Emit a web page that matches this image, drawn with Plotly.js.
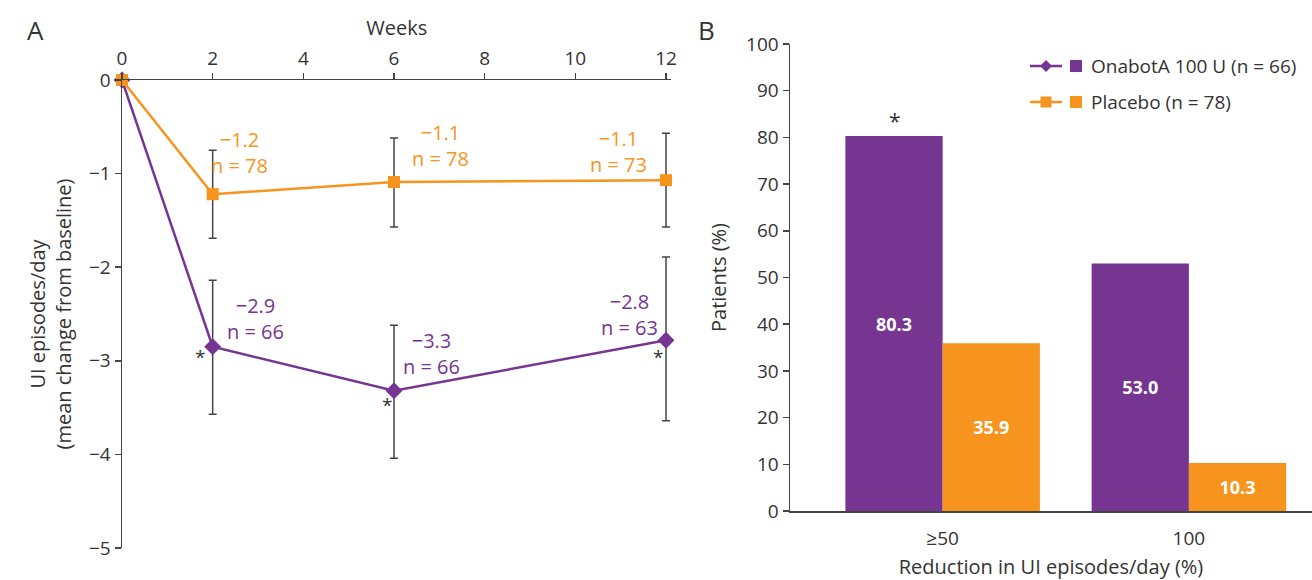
<!DOCTYPE html>
<html>
<head>
<meta charset="utf-8">
<script src="https://cdn.plot.ly/plotly-3.0.1.min.js"></script>
<style>html,body{margin:0;padding:0;background:#fff;}#chart{width:1312px;height:580px;}</style>
</head>
<body>
<div id="chart"></div>
<script>
// ---- Panel A data ----
const weeks = [0, 2, 6, 12];
const weekTicks = [0, 2, 4, 6, 8, 10, 12];
const onaMean = [0, -2.85, -3.32, -2.78];
const onaErrPlus = [null, 0.71, 0.70, 0.89];
const onaErrMinus = [null, 0.72, 0.72, 0.86];
const onaChange = ["", "\u22122.9", "\u22123.3", "\u22122.8"];
const onaN = [null, 66, 66, 63];
const placeboMean = [0, -1.22, -1.09, -1.07];
const placeboErrPlus = [null, 0.47, 0.47, 0.50];
const placeboErrMinus = [null, 0.47, 0.48, 0.50];
const placeboChange = ["", "\u22121.2", "\u22121.1", "\u22121.1"];
const placeboN = [null, 78, 78, 73];
const onaSignificant = [false, true, true, true];
const yTicksA = [0, -1, -2, -3, -4, -5];

// ---- Panel B data ----
const reductionCats = ["\u226550", "100"];
const onaPct = [80.3, 53.0];
const placeboPct = [35.9, 10.3];
const onaPctSignificant = [true, true];

const seriesNames = ["OnabotA 100 U (n = 66)", "Placebo (n = 78)"];

const PURPLE = "#763591";
const ORANGE = "#F7941D";
const AX = "#444444";
const TXT = "#333333";
const FONT = "Open Sans, Noto Sans, sans-serif";

const W = 1312, H = 580;
const px = v => v / W;
const py = v => 1 - v / H;

const traces = [
  {
    x: weeks, y: onaMean, type: "scatter", mode: "lines+markers",
    xaxis: "x", yaxis: "y", name: seriesNames[0], showlegend: false,
    line: {color: PURPLE, width: 2.5},
    marker: {symbol: "diamond", size: 13, color: PURPLE},
    error_y: {type: "data", symmetric: false, array: onaErrPlus, arrayminus: onaErrMinus,
              color: AX, thickness: 1.5, width: 4},
    cliponaxis: false
  },
  {
    x: weeks, y: placeboMean, type: "scatter", mode: "lines+markers",
    xaxis: "x", yaxis: "y", name: seriesNames[1], showlegend: false,
    line: {color: ORANGE, width: 2.5},
    marker: {symbol: "square", size: 12, color: ORANGE},
    error_y: {type: "data", symmetric: false, array: placeboErrPlus, arrayminus: placeboErrMinus,
              color: AX, thickness: 1.5, width: 4},
    cliponaxis: false
  },
  {
    x: reductionCats, y: onaPct, type: "bar", xaxis: "x2", yaxis: "y2",
    name: seriesNames[0], showlegend: false,
    marker: {color: PURPLE},
    texttemplate: "%{y:.1f}", textposition: "inside", insidetextanchor: "middle",
    textfont: {color: "#ffffff", size: 18, family: FONT, weight: "bold"},
    cliponaxis: false
  },
  {
    x: reductionCats, y: placeboPct, type: "bar", xaxis: "x2", yaxis: "y2",
    name: seriesNames[1], showlegend: false,
    marker: {color: ORANGE},
    texttemplate: "%{y:.1f}", textposition: "inside", insidetextanchor: "middle",
    textfont: {color: "#ffffff", size: 18, family: FONT, weight: "bold"},
    cliponaxis: false
  }
];

const annotations = [];
// Panel letters
annotations.push({xref: "paper", yref: "paper", x: px(35), y: py(30), text: "A", showarrow: false,
  font: {size: 26, color: TXT, family: FONT}, xanchor: "center", yanchor: "middle"});
annotations.push({xref: "paper", yref: "paper", x: px(706), y: py(30), text: "B", showarrow: false,
  font: {size: 26, color: TXT, family: FONT}, xanchor: "center", yanchor: "middle"});

// Panel A value labels
const placeboShift = [null, [27, 42], [46, 37], [-48, 29]];
const onaShift = [null, [43, 28], [37, 37], [-37, 26]];
const starShift = [null, [-13, -10], [-7, -14], [-8, -17]];
for (let i = 1; i < weeks.length; i++) {
  annotations.push({xref: "x", yref: "y", x: weeks[i], y: placeboMean[i],
    text: placeboChange[i] + "<br>n = " + placeboN[i], showarrow: false, align: "center",
    xshift: placeboShift[i][0], yshift: placeboShift[i][1],
    font: {size: 20, color: ORANGE, family: FONT}});
  annotations.push({xref: "x", yref: "y", x: weeks[i], y: onaMean[i],
    text: onaChange[i] + "<br>n = " + onaN[i], showarrow: false, align: "center",
    xshift: onaShift[i][0], yshift: onaShift[i][1],
    font: {size: 20, color: PURPLE, family: FONT}});
  if (onaSignificant[i]) {
    annotations.push({xref: "x", yref: "y", x: weeks[i], y: onaMean[i], text: "*", showarrow: false,
      xshift: starShift[i][0], yshift: starShift[i][1],
      font: {size: 19, color: TXT, family: FONT}});
  }
}
// Panel B significance stars
for (let i = 0; i < reductionCats.length; i++) {
  if (onaPctSignificant[i]) {
    annotations.push({xref: "x2", yref: "y2", x: reductionCats[i], y: onaPct[i], text: "*",
      showarrow: false, xshift: -48, yanchor: "bottom", yshift: -1,
      font: {size: 21, color: TXT, family: FONT}});
  }
}
// Legend (drawn manually: line+marker glyph, square swatch, label)
const legendRows = [66, 102];
const legendColors = [PURPLE, ORANGE];
const shapes = [];
for (let k = 0; k < 2; k++) {
  annotations.push({xref: "paper", yref: "paper", x: px(1089), y: py(legendRows[k]), text: seriesNames[k],
    showarrow: false, xanchor: "left", yanchor: "middle",
    font: {size: 19, color: TXT, family: FONT}});
  shapes.push({type: "line", xref: "paper", yref: "paper", x0: px(1030), x1: px(1062),
    y0: py(legendRows[k]), y1: py(legendRows[k]), line: {color: legendColors[k], width: 2.5}});
  if (k === 0) {
    shapes.push({type: "path", xref: "paper", yref: "paper", xsizemode: "pixel", ysizemode: "pixel",
      xanchor: px(1046), yanchor: py(legendRows[k]), path: "M -6 0 L 0 6 L 6 0 L 0 -6 Z",
      fillcolor: legendColors[k], line: {width: 0}});
  } else {
    shapes.push({type: "rect", xref: "paper", yref: "paper", xsizemode: "pixel", ysizemode: "pixel",
      xanchor: px(1046), yanchor: py(legendRows[k]), x0: -5.5, x1: 5.5, y0: -5.5, y1: 5.5,
      fillcolor: legendColors[k], line: {width: 0}});
  }
  shapes.push({type: "rect", xref: "paper", yref: "paper", xsizemode: "pixel", ysizemode: "pixel",
    xanchor: px(1076), yanchor: py(legendRows[k]), x0: -6, x1: 6, y0: -6, y1: 6,
    fillcolor: legendColors[k], line: {width: 0}});
}

const axisCommon = {
  showline: true, linecolor: AX, linewidth: 1.5, showgrid: false, zeroline: false,
  tickfont: {size: 19, color: TXT, family: FONT}, tickcolor: AX, tickwidth: 1.5
};

const A_X0 = 122, A_X12 = 666, A_RMAX = 12.12;
const A_XR = A_X0 + (A_X12 - A_X0) * A_RMAX / 12;

const layout = {
  width: W, height: H,
  margin: {l: 0, r: 0, t: 0, b: 0},
  paper_bgcolor: "#ffffff", plot_bgcolor: "rgba(0,0,0,0)",
  font: {family: FONT, color: TXT},
  showlegend: false,
  barmode: "group", bargap: 0.21, bargroupgap: 0,
  xaxis: Object.assign({}, axisCommon, {
    domain: [px(A_X0), px(A_XR)], range: [0, A_RMAX], side: "top", anchor: "y",
    tickvals: weekTicks, ticks: "outside", ticklen: 6,
    title: {text: "Weeks", font: {size: 20, color: TXT, family: FONT}, standoff: 4}
  }),
  yaxis: Object.assign({}, axisCommon, {
    domain: [py(548), py(80)], range: [-5, 0], anchor: "x",
    tickvals: yTicksA, ticks: "outside", ticklen: 6,
    title: {text: "UI episodes/day<br>(mean change from baseline)", font: {size: 20, color: TXT, family: FONT}, standoff: 12}
  }),
  xaxis2: Object.assign({}, axisCommon, {
    domain: [px(790), 1], range: [-0.62, 1.5], type: "category", anchor: "y2",
    ticks: "", ticklabelstandoff: 10,
    title: {text: "Reduction in UI episodes/day (%)", font: {size: 20, color: TXT, family: FONT}, standoff: 12}
  }),
  yaxis2: Object.assign({}, axisCommon, {
    domain: [py(511), py(44)], range: [0, 100], anchor: "x2",
    dtick: 10, ticks: "outside", ticklen: 6,
    title: {text: "Patients (%)", font: {size: 20, color: TXT, family: FONT}, standoff: 14}
  }),
  annotations: annotations,
  shapes: shapes
};

Plotly.newPlot("chart", traces, layout, {displayModeBar: false, staticPlot: true});
</script>
</body>
</html>
